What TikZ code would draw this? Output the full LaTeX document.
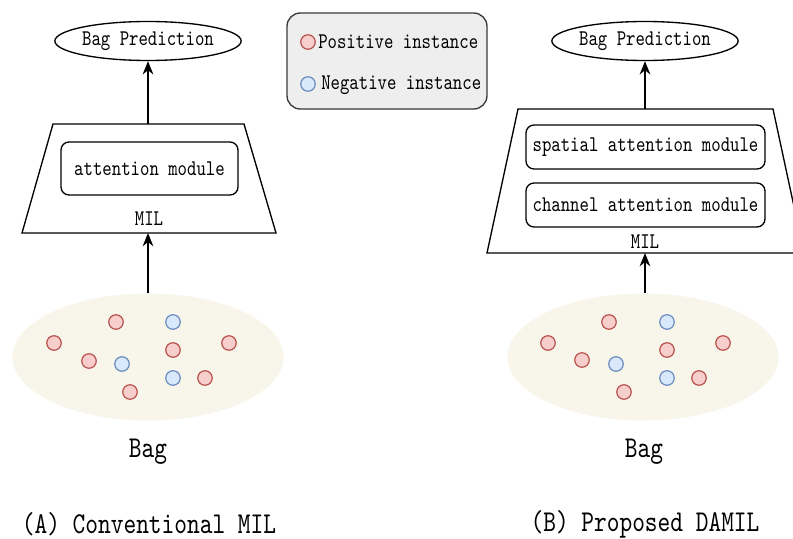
\documentclass[tikz,border=0pt]{standalone}
\usepackage{fontspec}
\newfontfamily\reffont{lmmono10-regular}[Extension=.otf, FakeStretch=0.8]
\usetikzlibrary{arrows.meta,shapes.geometric}
\definecolor{bagfill}{HTML}{F8F5EB}
\definecolor{posfill}{HTML}{F8CECC}
\definecolor{posdraw}{HTML}{B85450}
\definecolor{negfill}{HTML}{DAE8FC}
\definecolor{negdraw}{HTML}{6C8EBF}
\definecolor{legfill}{HTML}{EEEEEE}
\definecolor{legdraw}{HTML}{36393D}
\tikzset{
  txt/.style={font=\reffont\fontsize{16.8}{18}\selectfont, inner sep=0pt},
  bigtxt/.style={font=\reffont\fontsize{22.7}{24}\selectfont, inner sep=0pt},
  pred/.style={ellipse, draw, line width=1pt, minimum width=147*0.75pt, minimum height=39*0.75pt, inner sep=0pt, font=\reffont\fontsize{16.8}{18}\selectfont},
  modbox/.style={draw, rounded corners=6pt, line width=1pt, inner sep=0pt, font=\reffont\fontsize{16.8}{18}\selectfont},
  trap/.style={draw, line width=1pt, fill=white},
  bag/.style={ellipse, fill=bagfill, minimum width=271*0.75pt, minimum height=127*0.75pt, inner sep=0pt},
  posinst/.style={circle, draw=posdraw, fill=posfill, line width=0.9pt, minimum size=14.5*0.75pt, inner sep=0pt},
  neginst/.style={circle, draw=negdraw, fill=negfill, line width=0.9pt, minimum size=14.5*0.75pt, inner sep=0pt},
  arr/.style={-{Stealth[length=10pt,width=8pt]}, line width=1pt},
}
\begin{document}
\begin{tikzpicture}[x=0.75pt,y=-0.75pt]
\clip (0,0) rectangle (793,539);
\fill[white] (0,0) rectangle (793,539);

% ---------- Left (A) ----------
\node[pred] (predA) at (148,41) {Bag Prediction};
\draw[trap] (53,124) -- (244,124) -- (276,233) -- (22,233) -- cycle;
\coordinate (trapAtop) at (148,124);
\coordinate (trapAbot) at (148,233);
\node[modbox, minimum width=177*0.75pt, minimum height=53*0.75pt] (attA) at (149.5,168.5) {attention module};
\node[txt] (milA) at (149,219) {MIL};
\draw[arr] (trapAtop) -- (predA);

\node[bag] (bagA) at (148,357) {};
\draw[arr] (bagA.north) -- (trapAbot);
\node[posinst] (a1) at (116,322) {};
\node[neginst] (a2) at (173,322) {};
\node[posinst] (a3) at (54,343) {};
\node[posinst] (a4) at (89,361) {};
\node[neginst] (a5) at (122,364) {};
\node[posinst] (a6) at (173,350) {};
\node[posinst] (a7) at (229,343) {};
\node[neginst] (a8) at (173,378) {};
\node[posinst] (a9) at (205,378) {};
\node[posinst] (a10) at (130,392) {};
\node[bigtxt] (bagAlbl) at (148,452) {Bag};
\node[bigtxt] (capA) at (149,524) {(A) Conventional MIL};

% ---------- Legend ----------
\node[draw=legdraw, fill=legfill, rounded corners=10pt, line width=1pt, minimum width=200*0.75pt, minimum height=96*0.75pt] (legend) at (387,61) {};
\node[posinst] (lpos) at (308,42) {};
\node[neginst] (lneg) at (308,84) {};
\node[txt, anchor=west] (lpostxt) at (318,42) {Positive instance};
\node[txt, anchor=west] (lnegtxt) at (321,85) {Negative instance};

% ---------- Right (B) ----------
\node[pred] (predB) at (645,41) {Bag Prediction};
\draw[trap] (518,109) -- (773,109) -- (804,253) -- (487,253) -- cycle;
\coordinate (trapBtop) at (645,109);
\coordinate (trapBbot) at (645,253);
\node[modbox, minimum width=239*0.75pt, minimum height=44*0.75pt] (spat) at (645.5,147) {spatial attention module};
\node[modbox, minimum width=239*0.75pt, minimum height=44*0.75pt] (chan) at (645.5,205) {channel attention module};
\node[txt] (milB) at (645,242) {MIL};
\draw[arr] (trapBtop) -- (predB);

\node[bag] (bagB) at (643,357) {};
\draw[arr] (bagB.north -| trapBbot) -- (trapBbot);
\node[posinst] (b1) at (609,322) {};
\node[neginst] (b2) at (667,322) {};
\node[posinst] (b3) at (548,343) {};
\node[posinst] (b4) at (582,360) {};
\node[neginst] (b5) at (616,364) {};
\node[posinst] (b6) at (667,350) {};
\node[posinst] (b7) at (723,343) {};
\node[neginst] (b8) at (667,378) {};
\node[posinst] (b9) at (699,378) {};
\node[posinst] (b10) at (624,392) {};
\node[bigtxt] (bagBlbl) at (644,452) {Bag};
\node[bigtxt] (capB) at (645,524) {(B) Proposed DAMIL};
\end{tikzpicture}
\end{document}
